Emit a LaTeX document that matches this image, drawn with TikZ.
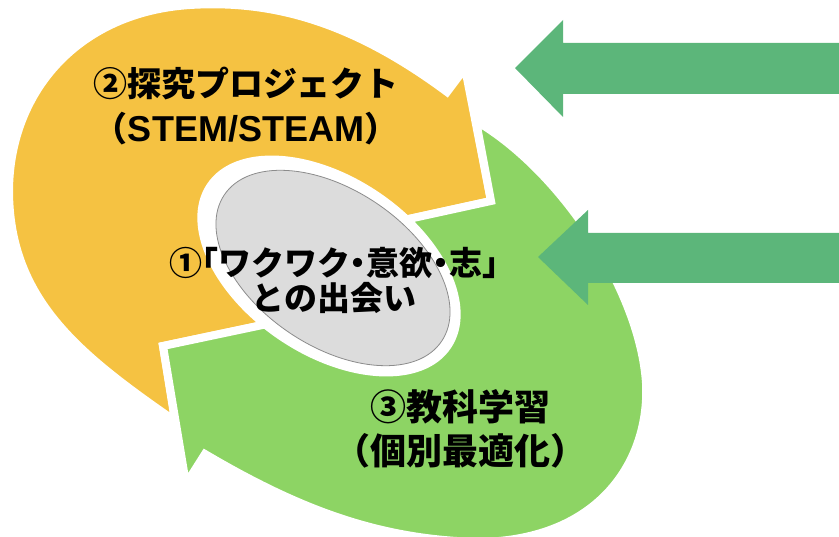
\documentclass[tikz,border=0pt]{standalone}
\usepackage{fontspec}
\usepackage{tikz}

\newfontfamily\jpfont{Noto Sans CJK JP}[RawFeature=+halt]
\newfontfamily\latinfont{Liberation Sans}

\begin{document}
\begin{tikzpicture}
	[x=1pt,y=-1pt,line join=miter,
	%Styles
	band/.style={draw=white,line width=8pt},
	input arrow/.style={fill=inputgreen},
	step text/.style={font=\jpfont\bfseries,align=center,inner sep=0pt,text=black}
	]
	
	%Colors
	\definecolor{projectorange}{HTML}{F5C242}
	\definecolor{subjectgreen}{HTML}{8DD464}
	\definecolor{inputgreen}{HTML}{5CB67A}
	\definecolor{corefill}{HTML}{DCDCDC}
	
	\useasboundingbox (0,0) rectangle (839,537);
	\clip (0,0) rectangle (839,537);
	
	%The graphic
	% orange band, tail hidden behind the green head
	\filldraw[band,fill=projectorange] (175,421) -- (163,346) -- (272,323) -- (395,222)
		-- (491,201) -- (465,68) -- (447,92)
		.. controls (350,20) and (270,0) .. (190,5)
		.. controls (80,12) and (10,90) .. (9,190)
		.. controls (9,300) and (80,355) .. (175,421) -- cycle;
	
	% green band, tail tucked under the orange head
	\filldraw[band,fill=subjectgreen] (163,346) -- (186,484) -- (205,454)
		.. controls (300,510) and (380,540) .. (480,542)
		.. controls (600,540) and (650,460) .. (646,383)
		.. controls (640,290) and (560,170) .. (476,121)
		-- (491,201) -- (395,222) -- (272,323) -- cycle;
	
	% core
	\fill[white,rotate around={-34:(329,266)}] (329,266) ellipse [x radius=147, y radius=89];
	\filldraw[fill=corefill,draw=black!45,line width=0.8pt,rotate around={-34:(333,268)}]
		(333,268) ellipse [x radius=131, y radius=78];
	
	\node[step text,font=\jpfont\bfseries\fontsize{33}{35}\selectfont] (encounter) at (334,280)
		{①「ワクワク・意欲・志」\\との出会い};
	\node[step text,font=\jpfont\bfseries\fontsize{34}{45}\selectfont] (inquiry) at (246,106)
		{②探究プロジェクト\\（{\latinfont\bfseries\fontsize{36}{45}\selectfont STEM/STEAM}）};
	\node[step text,font=\jpfont\bfseries\fontsize{36}{44}\selectfont] (subjects) at (460,429)
		{③教科学習\\（個別最適化）};
	
	% arrows coming in from the right
	\fill[input arrow] (515,68) -- (563,20) -- (563,43) -- (845,43) -- (845,94) -- (563,94) -- (563,117) -- cycle;
	\fill[input arrow] (538,257) -- (588,210) -- (588,233) -- (845,233) -- (845,283) -- (588,283) -- (588,305) -- cycle;
\end{tikzpicture}
\end{document}
